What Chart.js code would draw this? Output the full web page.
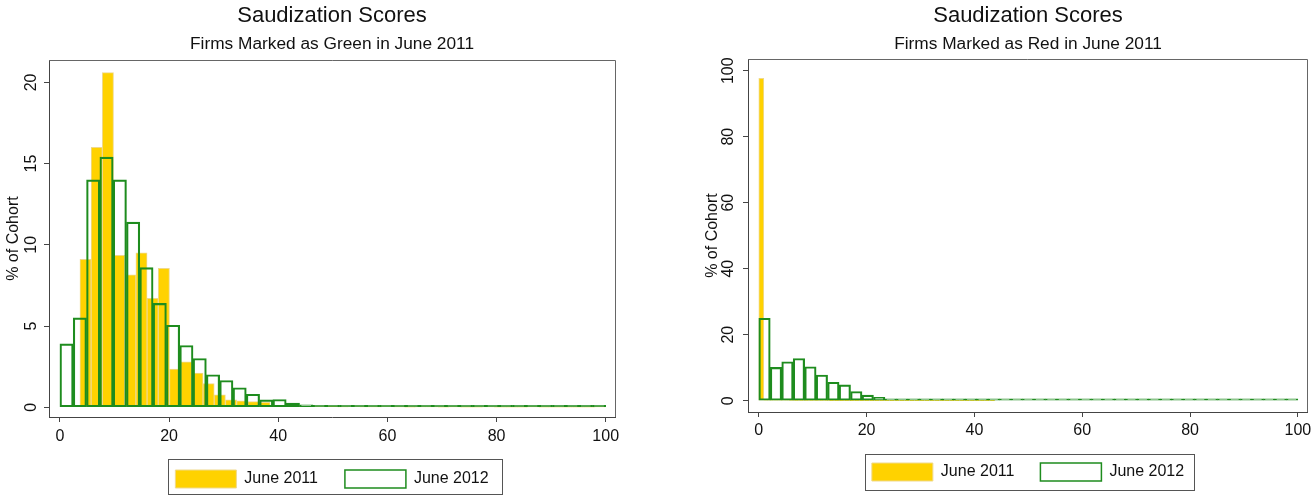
<!DOCTYPE html>
<html>
<head>
<meta charset="utf-8">
<script src="https://cdn.jsdelivr.net/npm/chart.js@4.4.1/dist/chart.umd.min.js"></script>
<style>
  html, body { margin: 0; padding: 0; background: #fff; overflow: hidden; }
  body { width: 1312px; height: 496px; position: relative; }
  canvas { position: absolute; top: 0; }
  #greenChart { left: 0; }
  #redChart { left: 700px; }
</style>
</head>
<body>
<canvas id="greenChart" width="664" height="498"></canvas>
<canvas id="redChart" width="656" height="491"></canvas>
<script>
// tick labels
const xTicks = [0, 20, 40, 60, 80, 100];
const greenYTicks = [0, 5, 10, 15, 20];
const redYTicks = [0, 20, 40, 60, 80, 100];

// histogram bins: first bin start, bin width, % of cohort per bin
const green2011Start = 3.67, green2011Width = 2.05;
const green2011 = [9.1, 16.0, 20.6, 9.35, 8.15, 9.5, 6.7, 8.55, 2.35, 2.8,
    2.1, 1.45, 0.76, 0.45, 0.4, 0.35, 0.3, 0.06, 0.05, 0.04,
    0.05, 0.03, 0.04, 0.02, 0.03, 0.02, 0.02, 0.03, 0.02, 0.01,
    0.02, 0.02, 0.01, 0.02, 0.01, 0.01, 0.02, 0.01, 0.01, 0.01,
    0.02, 0.01, 0.01, 0.01, 0.01, 0.01, 0.02];

const green2012Start = 0, green2012Width = 100 / 41;
const green2012 = [3.9, 5.5, 14.0, 15.4, 14.0, 11.4, 8.6, 6.4, 5.05, 3.8,
    3.0, 2.0, 1.65, 1.2, 0.8, 0.45, 0.48, 0.25, 0.15, 0.12,
    0.1, 0.06, 0.04, 0.1, 0.05, 0.04, 0.03, 0.05, 0.03, 0.03,
    0.02, 0.03, 0.02, 0.02, 0.02, 0.02, 0.01, 0.02, 0.02, 0.01, 0.03];

const red2011Start = 0, red2011Width = 0.932;
const red2011 = [97.7, 0.22, 0.2, 0.18, 0.15, 0.14, 0.12, 0.1, 0.1, 0.09,
    0.08, 0.07, 0.07, 0.06, 0.05, 0.05, 0.04, 0.04, 0.03, 0.03,
    0.03, 0.02, 0.02, 0.02, 0.02, 0.02, 0.01, 0.01, 0.01, 0.01,
    0.01, 0.01, 0.01, 0.01, 0.01, 0.01, 0.01, 0.01, 0.01, 0.01,
    0.01, 0.01, 0.01, 0.01, 0.01, 0.01, 0.01];

const red2012Start = 0, red2012Width = 100 / 47;
const red2012 = [25.0, 10.1, 11.8, 12.8, 10.3, 7.8, 5.6, 4.8, 2.8, 1.7,
    1.0, 0.5, 0.3, 0.2, 0.15, 0.12, 0.1, 0.1, 0.08, 0.08,
    0.07, 0.06, 0.06, 0.05, 0.05, 0.05, 0.04, 0.04, 0.04, 0.04,
    0.03, 0.03, 0.03, 0.03, 0.03, 0.03, 0.03, 0.02, 0.02, 0.02,
    0.02, 0.02, 0.02, 0.02, 0.02, 0.02, 0.05];

const GOLD = '#FFD200';
const GOLD_EDGE = '#EFD98C';
const GREEN = '#1E8C1E';
const AXIS = '#444';

Chart.defaults.font.family = "'Liberation Sans', Arial, Helvetica, sans-serif";
Chart.defaults.color = '#111';
Chart.defaults.animation = false;

// bin centers from the bin definition
function toBins(start, width, values) {
    return values.map((v, i) => ({ x: start + width * (i + 0.5), y: v }));
}

// top and right edge of the plot region
const plotFrame = {
    id: 'plotFrame',
    afterDraw(chart) {
        const { ctx, chartArea: a } = chart;
        ctx.save();
        ctx.strokeStyle = '#666';
        ctx.lineWidth = 1;
        ctx.beginPath();
        ctx.moveTo(a.left, Math.round(a.top) + 0.5);
        ctx.lineTo(Math.round(a.right) + 0.5, Math.round(a.top) + 0.5);
        ctx.lineTo(Math.round(a.right) + 0.5, a.bottom);
        ctx.stroke();
        ctx.restore();
    }
};

// box round the legend, Stata style
const legendFrame = {
    id: 'legendFrame',
    afterDraw(chart, args, opts) {
        const boxes = chart.legend && chart.legend.legendHitBoxes;
        if (!boxes || !boxes.length) return;
        const first = boxes[0], last = boxes[boxes.length - 1];
        const x0 = Math.round(first.left - opts.padLeft) + 0.5;
        const x1 = Math.round(last.left + last.width + opts.padRight) + 0.5;
        const y0 = Math.round(first.top - opts.padTop) + 0.5;
        const y1 = Math.round(first.top + first.height + opts.padBottom) + 0.5;
        const ctx = chart.ctx;
        ctx.save();
        ctx.strokeStyle = '#555';
        ctx.lineWidth = 1;
        ctx.strokeRect(x0, y0, x1 - x0, y1 - y0);
        ctx.restore();
    }
};

function makeChart(id, cfg) {
    const tickGrid = { display: true, drawOnChartArea: false, drawTicks: true, tickLength: 5, tickColor: AXIS, offset: false };
    return new Chart(document.getElementById(id), {
        type: 'bar',
        data: {
            datasets: [{
                label: 'June 2011',
                data: cfg.data2011,
                xAxisID: 'x2',
                backgroundColor: GOLD,
                borderColor: GOLD_EDGE,
                borderWidth: 1,
                borderSkipped: false,
                barPercentage: 1,
                categoryPercentage: 1,
                grouped: false,
                order: 2
            }, {
                label: 'June 2012',
                data: cfg.data2012,
                xAxisID: 'x',
                backgroundColor: 'rgba(255,255,255,0)',
                borderColor: GREEN,
                borderWidth: 1.5,
                borderSkipped: false,
                minBarLength: 2,
                barPercentage: 1,
                categoryPercentage: 1,
                grouped: false,
                order: 1
            }]
        },
        options: {
            responsive: false,
            devicePixelRatio: 1,
            layout: { padding: 0 },
            plugins: {
                title: {
                    display: true,
                    text: 'Saudization Scores',
                    color: '#111',
                    font: { size: 22, weight: 'normal' },
                    padding: { top: 2.8, bottom: 0 }
                },
                subtitle: {
                    display: true,
                    text: cfg.subtitle,
                    color: '#111',
                    font: { size: 17.3, weight: 'normal' },
                    padding: { top: 4.4, bottom: cfg.subPad }
                },
                legend: {
                    position: 'bottom',
                    labels: {
                        boxWidth: 61,
                        boxHeight: 18,
                        padding: cfg.legendPad,
                        color: '#111',
                        font: { size: 16 },
                        sort: (a, b) => a.datasetIndex - b.datasetIndex
                    }
                },
                legendFrame: cfg.frame,
                tooltip: { enabled: false }
            },
            scales: {
                x: {
                    type: 'linear',
                    min: -2, max: 101.7,
                    offset: false,
                    afterBuildTicks: s => { s.ticks = xTicks.map(v => ({ value: v })); },
                    afterFit: s => { s.height = cfg.xAxisH; },
                    grid: tickGrid,
                    border: { display: true, color: AXIS, width: 1 },
                    ticks: { font: { size: 16 }, color: '#111', padding: cfg.xTickPad, maxRotation: 0, autoSkip: false }
                },
                x2: {
                    type: 'linear',
                    display: false,
                    min: -2, max: 101.7,
                    offset: false,
                    afterBuildTicks: s => { s.ticks = xTicks.map(v => ({ value: v })); }
                },
                y: {
                    type: 'linear',
                    min: cfg.yMin, max: cfg.yMax,
                    afterBuildTicks: s => { s.ticks = cfg.yTicks.map(v => ({ value: v })); },
                    afterFit: s => { s.width = cfg.yAxisW; },
                    grid: tickGrid,
                    border: { display: true, color: AXIS, width: 1 },
                    ticks: { font: { size: 16 }, color: '#111', minRotation: 90, maxRotation: 90, crossAlign: 'center', padding: cfg.yTickPad, autoSkip: false },
                    title: { display: true, text: '% of Cohort', color: '#111', font: { size: 16 }, padding: { top: cfg.yTitlePad, bottom: 0 } }
                },
                yr: {
                    type: 'linear',
                    position: 'right',
                    display: true,
                    grid: { display: false },
                    border: { display: false },
                    ticks: { display: false },
                    afterFit: s => { s.width = 49; }
                }
            }
        },
        plugins: [plotFrame, legendFrame]
    });
}

makeChart('greenChart', {
    subtitle: 'Firms Marked as Green in June 2011',
    data2011: toBins(green2011Start, green2011Width, green2011),
    data2012: toBins(green2012Start, green2012Width, green2012),
    yTicks: greenYTicks,
    yMin: -0.6, yMax: 21.37,
    yAxisW: 49, yTickPad: 4, yTitlePad: 4.4,
    xAxisH: 26, xTickPad: 5, subPad: 5.8, legendPad: 27,
    frame: { padLeft: 7, padRight: 13, padTop: 11, padBottom: 6 }
});

makeChart('redChart', {
    subtitle: 'Firms Marked as Red in June 2011',
    data2011: toBins(red2011Start, red2011Width, red2011),
    data2012: toBins(red2012Start, red2012Width, red2012),
    yTicks: redYTicks,
    yMin: -3.42, yMax: 103.5,
    yAxisW: 48, yTickPad: 1, yTitlePad: 3.4,
    xAxisH: 25, xTickPad: 4, subPad: 4.8, legendPad: 26,
    frame: { padLeft: 7, padRight: 10, padTop: 9, padBottom: 9 }
});
</script>
</body>
</html>
